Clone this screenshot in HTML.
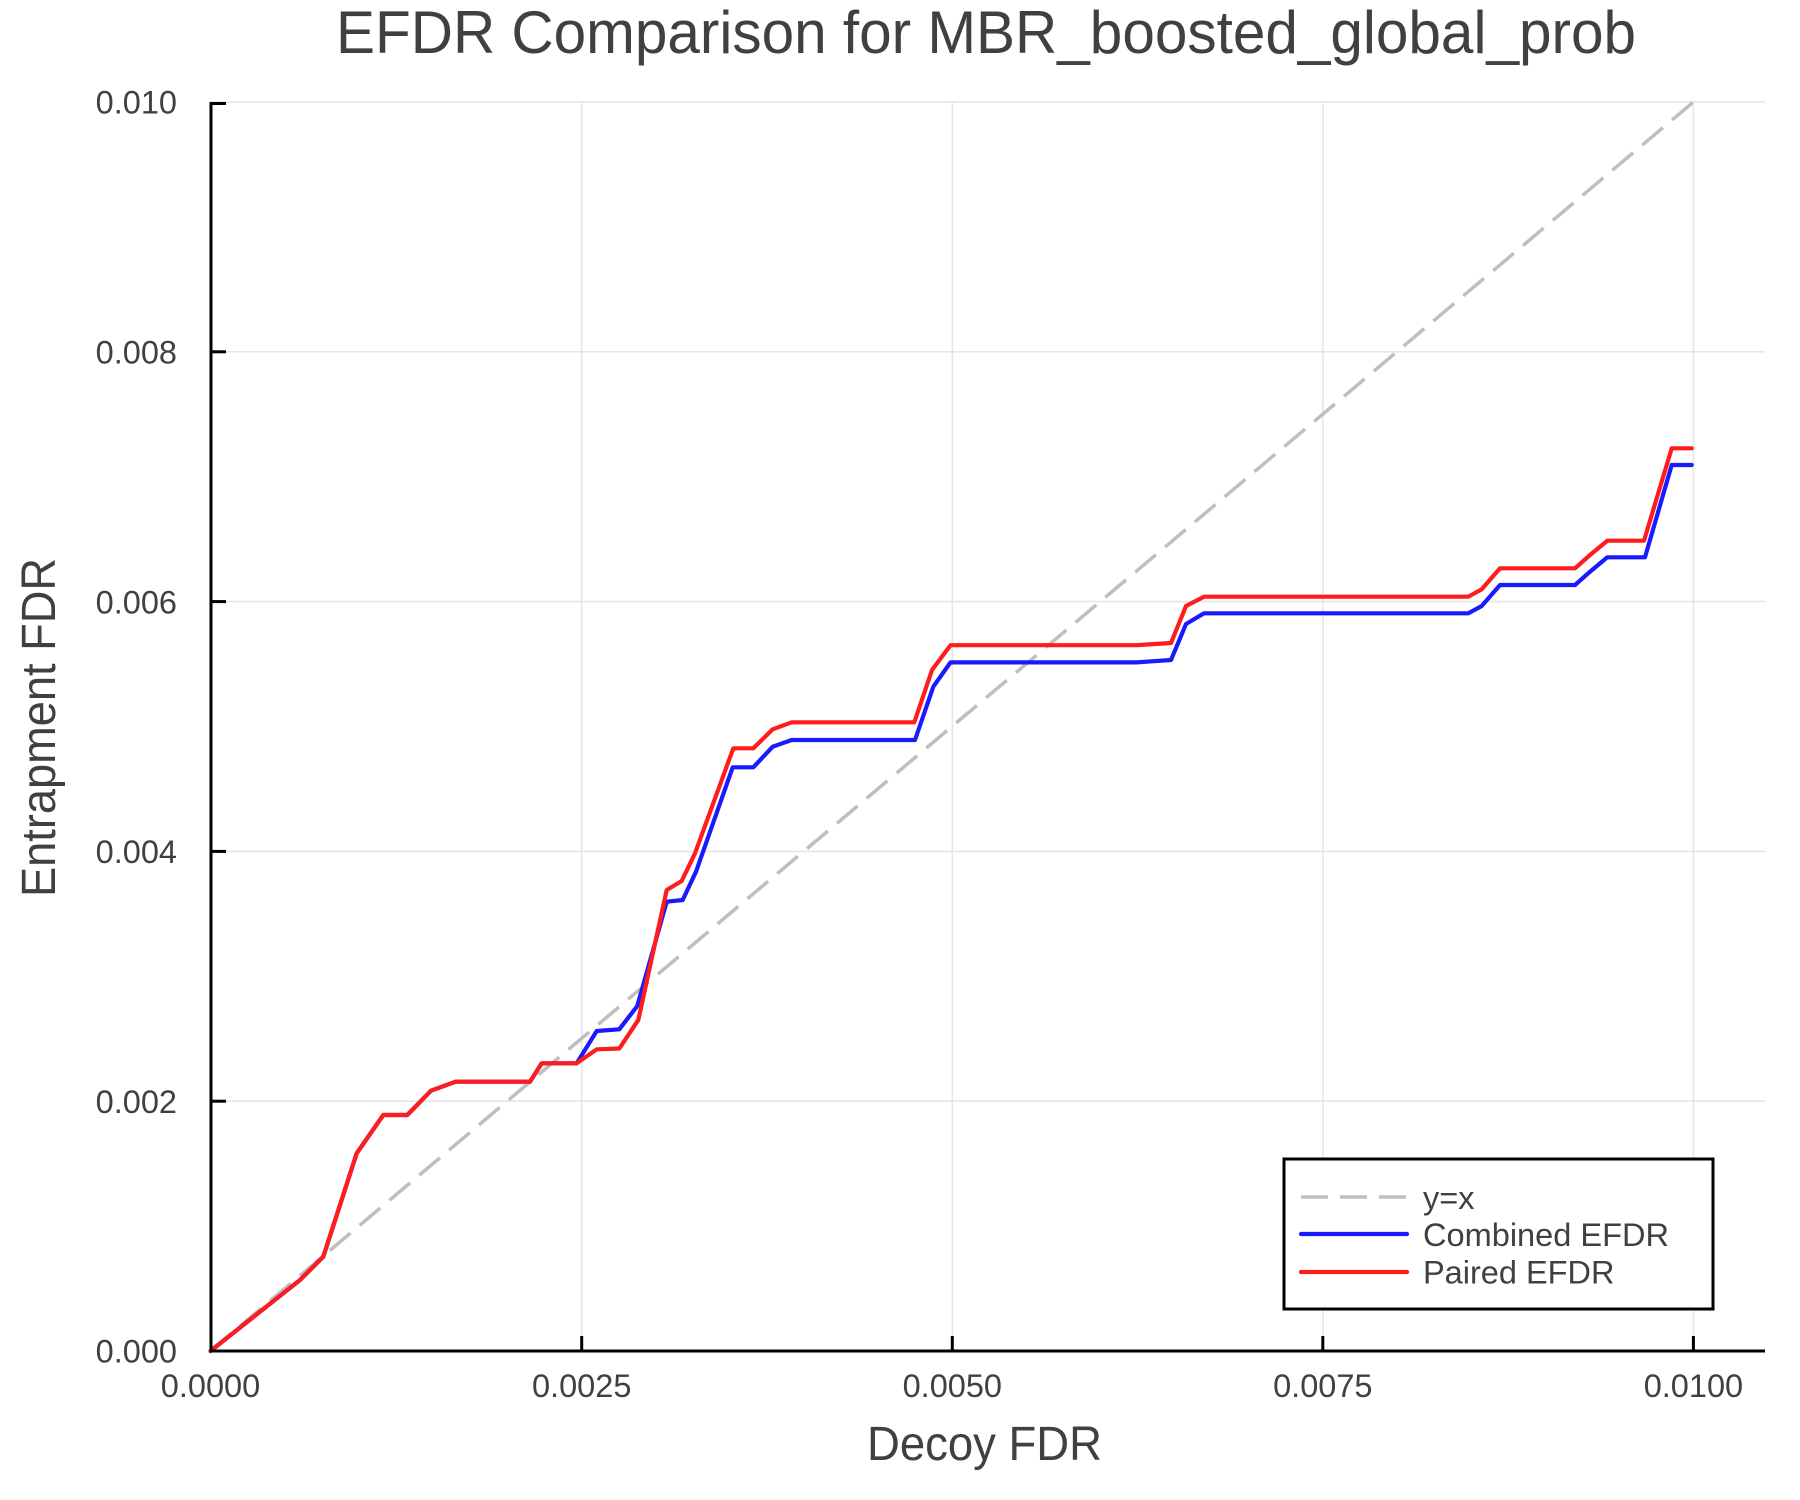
<!DOCTYPE html>
<html>
<head>
<meta charset="utf-8">
<style>
  html, body { margin: 0; padding: 0; background: #ffffff; }
  svg { display: block; }
  text { font-family: "Liberation Sans", "DejaVu Sans", sans-serif; fill: #404040; }
</style>
</head>
<body>
<svg width="1800" height="1500" viewBox="0 0 1800 1500" xmlns="http://www.w3.org/2000/svg">
  <rect x="0" y="0" width="1800" height="1500" fill="#ffffff"/>

  <!-- Title -->
  <text x="986" y="53" font-size="60" text-anchor="middle" textLength="1300" lengthAdjust="spacingAndGlyphs">EFDR Comparison for MBR_boosted_global_prob</text>

  <!-- Grid -->
  <g stroke="#e6e6e6" stroke-width="1.6" fill="none">
    <line x1="581.7" y1="102" x2="581.7" y2="1351"/>
    <line x1="952.3" y1="102" x2="952.3" y2="1351"/>
    <line x1="1322.8" y1="102" x2="1322.8" y2="1351"/>
    <line x1="1693.4" y1="102" x2="1693.4" y2="1351"/>
    <line x1="210.5" y1="1101.2" x2="1765" y2="1101.2"/>
    <line x1="210.5" y1="851.4" x2="1765" y2="851.4"/>
    <line x1="210.5" y1="601.6" x2="1765" y2="601.6"/>
    <line x1="210.5" y1="351.8" x2="1765" y2="351.8"/>
    <line x1="210.5" y1="102" x2="1765" y2="102"/>
  </g>

  <!-- y = x dashed -->
  <line x1="210.5" y1="1351" x2="1693.4" y2="102" stroke="#bfbfbf" stroke-width="3.5" stroke-dasharray="27 12" fill="none"/>

  <!-- Combined EFDR (blue) -->
  <polyline fill="none" stroke="#1a1aff" stroke-width="4.2" stroke-linejoin="round" stroke-linecap="round"
    points="210.5,1351 300,1280 323.3,1256.7 356.7,1153.3 383.3,1115 407.3,1115 431,1090.7 455.7,1081.7 530,1081.7 541.7,1063.3 576.7,1063.3 596.7,1031 619.3,1029.3 637.3,1006 666.7,901.7 682.7,900 696,871.7 732.7,767.3 753.3,767.3 772.7,746.7 791.7,740 915,740 933.3,686.7 950.5,662.4 1136.5,662.4 1171,660 1186,624 1204,613.3 1468.3,613.3 1481.7,606 1500,585 1575,585 1590,571.7 1607.3,557.3 1645,557.3 1671.7,465 1691.7,465"/>

  <!-- Paired EFDR (red) -->
  <polyline fill="none" stroke="#ff1c1c" stroke-width="4.2" stroke-linejoin="round" stroke-linecap="round"
    points="210.5,1351 300,1280 323.3,1256.7 356.7,1153.3 383.3,1115 407.3,1115 431,1090.7 455.7,1081.7 530,1081.7 541.7,1063.3 576.7,1063.3 596.7,1049.3 619.3,1048.5 638.3,1020 666.7,890 681.7,881 695,853.3 733.3,748.3 753.3,748.3 772.7,729.3 791.7,722.3 914.3,722.3 932,670 950.5,645.2 1136.5,645.2 1171,643 1186,606 1204,596.7 1468.3,596.7 1481.7,589.3 1500,568.3 1575,568.3 1590,555 1607.3,540.7 1644,540.7 1671.7,448.3 1691.7,448.3"/>

  <!-- Axes -->
  <g stroke="#000000" stroke-width="3" fill="none">
    <line x1="211" y1="102" x2="211" y2="1352.5"/>
    <line x1="209.5" y1="1351" x2="1765" y2="1351"/>
    <!-- y ticks -->
    <line x1="211" y1="1101.2" x2="226" y2="1101.2"/>
    <line x1="211" y1="851.4" x2="226" y2="851.4"/>
    <line x1="211" y1="601.6" x2="226" y2="601.6"/>
    <line x1="211" y1="351.8" x2="226" y2="351.8"/>
    <line x1="211" y1="103.5" x2="226" y2="103.5"/>
    <!-- x ticks -->
    <line x1="581.7" y1="1351" x2="581.7" y2="1336"/>
    <line x1="952.3" y1="1351" x2="952.3" y2="1336"/>
    <line x1="1322.8" y1="1351" x2="1322.8" y2="1336"/>
    <line x1="1693.4" y1="1351" x2="1693.4" y2="1336"/>
  </g>

  <!-- y tick labels -->
  <g font-size="32.5" text-anchor="end">
    <text x="177" y="1362.7">0.000</text>
    <text x="177" y="1112.9">0.002</text>
    <text x="177" y="863.1">0.004</text>
    <text x="177" y="613.3">0.006</text>
    <text x="177" y="363.5">0.008</text>
    <text x="177" y="113.7">0.010</text>
  </g>

  <!-- x tick labels -->
  <g font-size="32.5" text-anchor="middle">
    <text x="210.5" y="1397">0.0000</text>
    <text x="581.7" y="1397">0.0025</text>
    <text x="952.3" y="1397">0.0050</text>
    <text x="1322.8" y="1397">0.0075</text>
    <text x="1693.4" y="1397">0.0100</text>
  </g>

  <!-- Axis labels -->
  <text x="984.5" y="1460" font-size="48" text-anchor="middle" textLength="235" lengthAdjust="spacingAndGlyphs">Decoy FDR</text>
  <text transform="translate(55,727.5) rotate(-90)" x="0" y="0" font-size="48" text-anchor="middle" textLength="339" lengthAdjust="spacingAndGlyphs">Entrapment FDR</text>

  <!-- Legend -->
  <rect x="1284" y="1159" width="429" height="150" fill="#ffffff" stroke="#000000" stroke-width="3"/>
  <line x1="1301" y1="1197" x2="1407" y2="1197" stroke="#bfbfbf" stroke-width="3.5" stroke-dasharray="27 12"/>
  <line x1="1301" y1="1234" x2="1407" y2="1234" stroke="#1a1aff" stroke-width="4.2" stroke-linecap="round"/>
  <line x1="1301" y1="1272" x2="1407" y2="1272" stroke="#ff1c1c" stroke-width="4.2" stroke-linecap="round"/>
  <g font-size="32.5">
    <text x="1423" y="1209">y=x</text>
    <text x="1423" y="1246" textLength="246" lengthAdjust="spacingAndGlyphs">Combined EFDR</text>
    <text x="1423" y="1283.5">Paired EFDR</text>
  </g>
</svg>
</body>
</html>
